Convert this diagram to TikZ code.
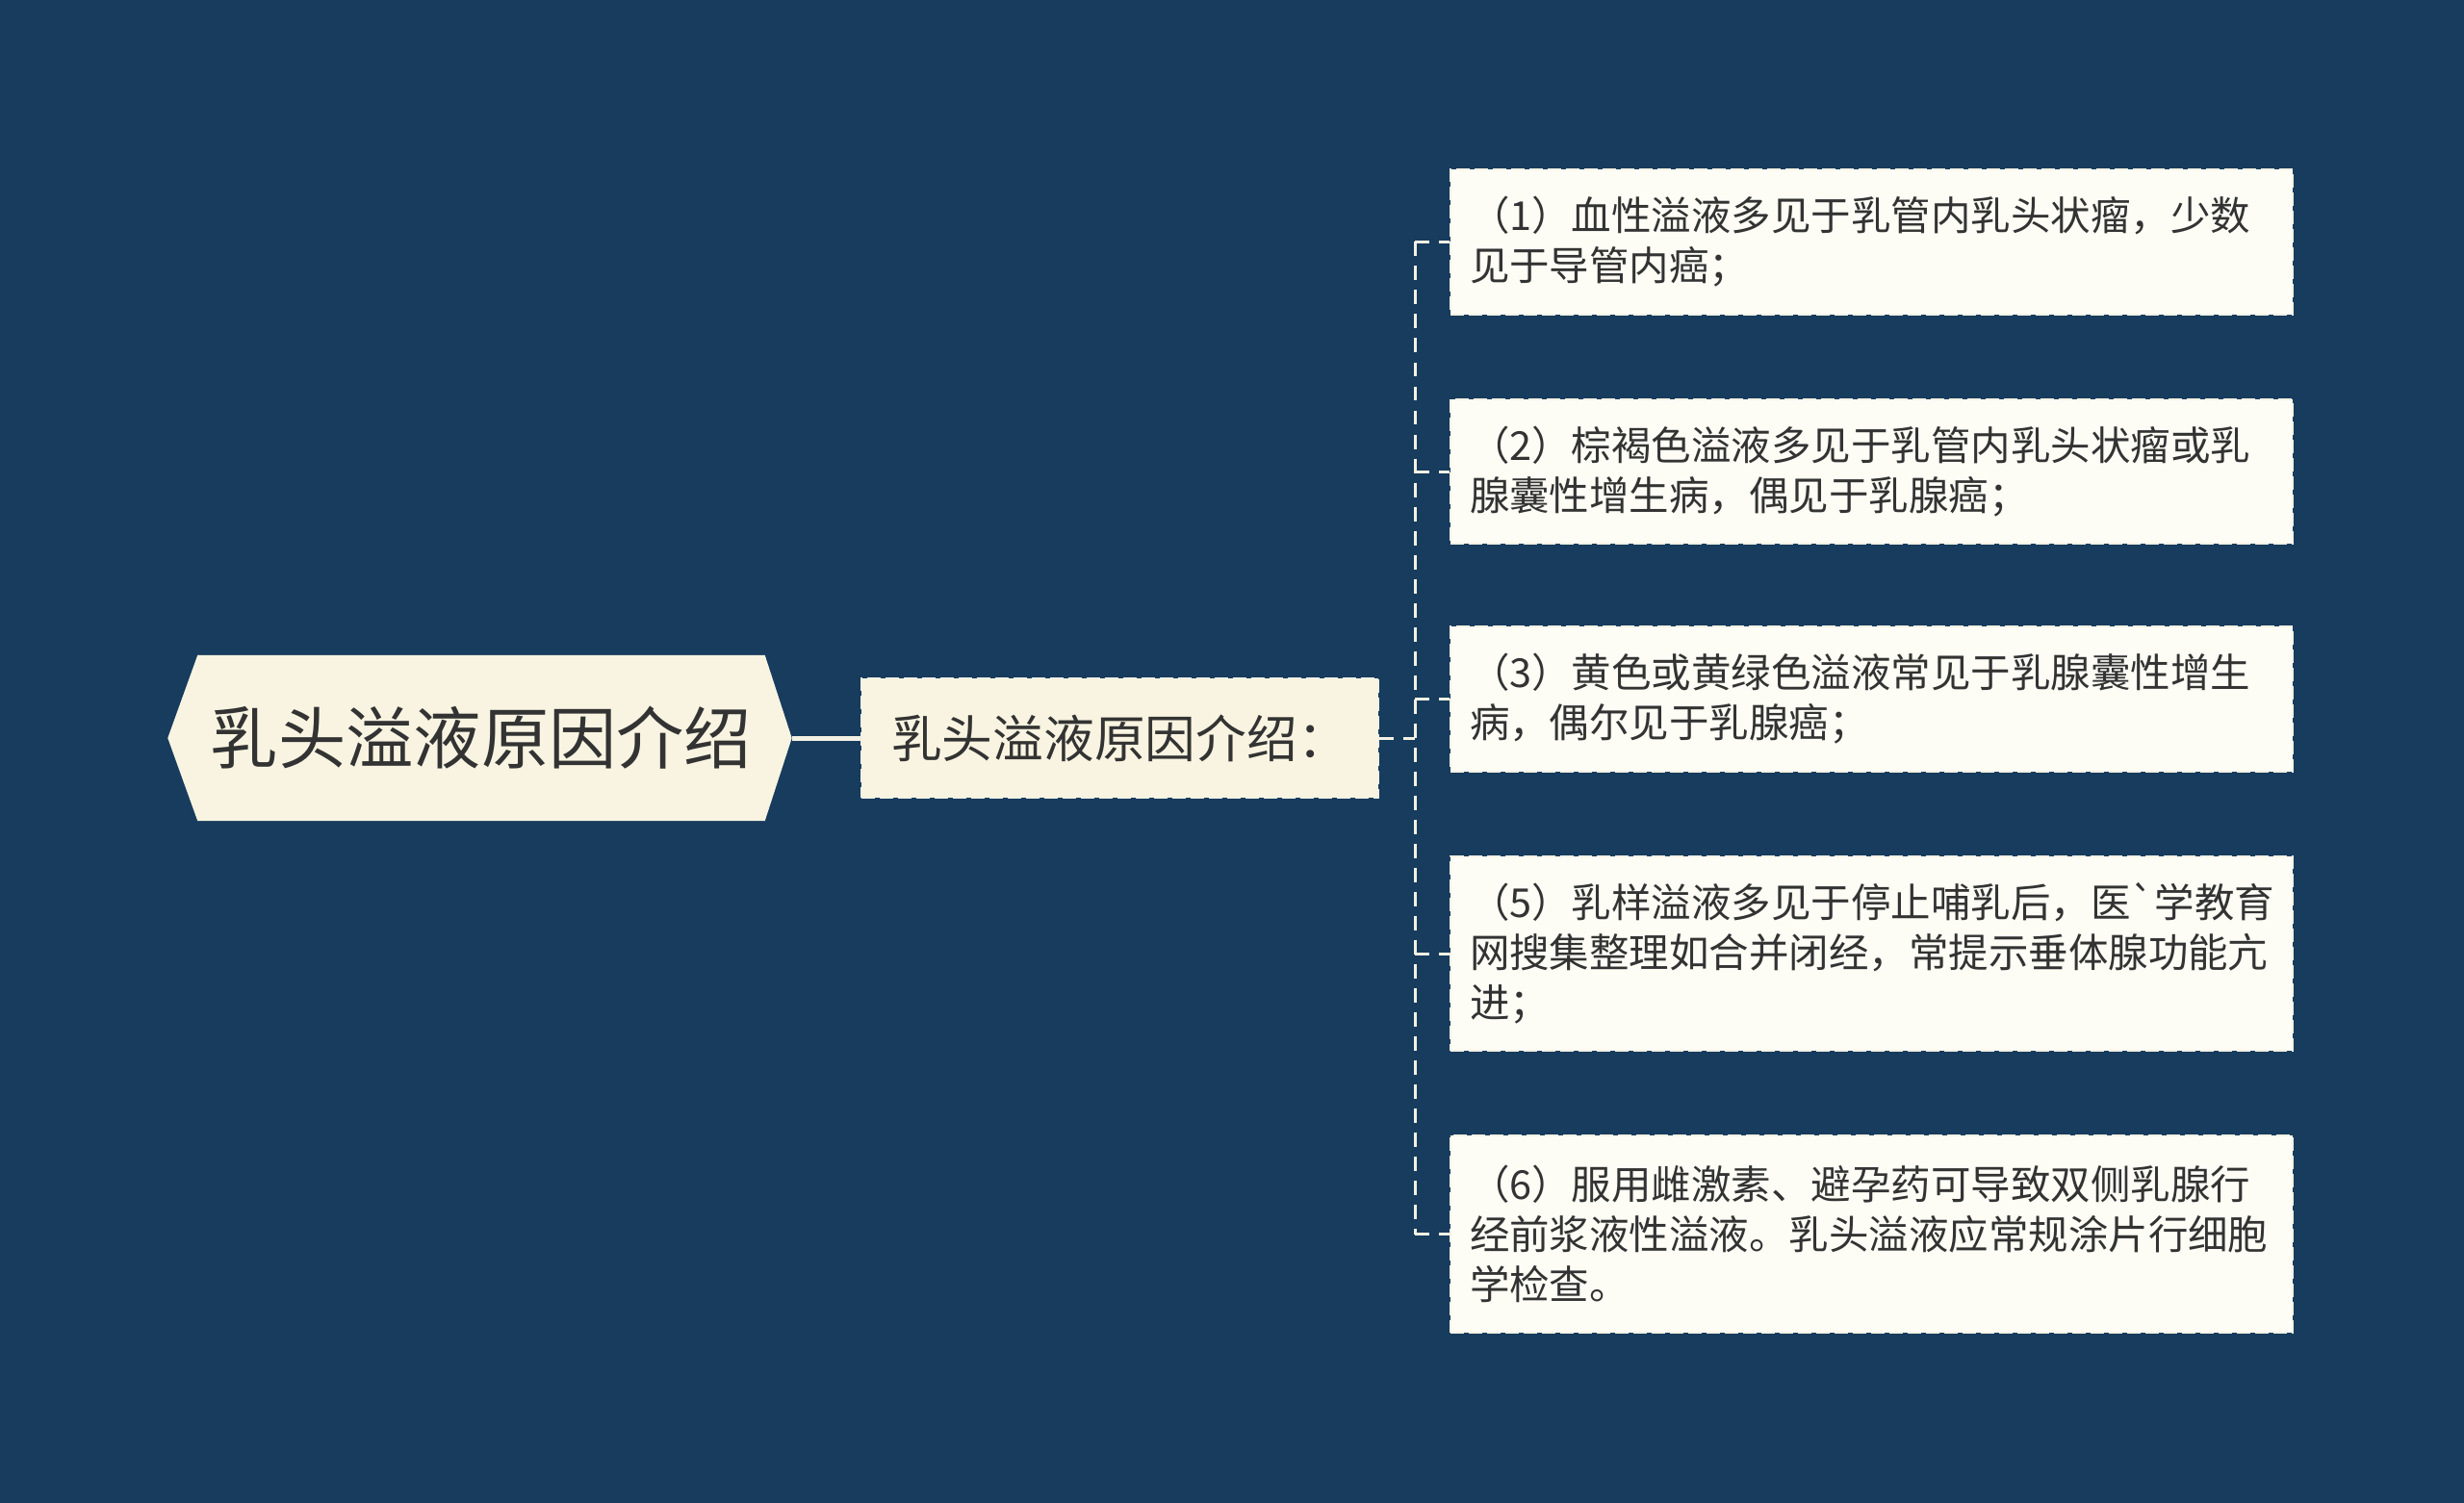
\documentclass[tikz,border=0pt]{standalone}
\usepackage{fontspec}
\usepackage{xcolor}
\usetikzlibrary{backgrounds}
\newfontfamily\cjk{Noto Sans CJK SC}
\definecolor{navy}{HTML}{173C5D}
\definecolor{rootfill}{HTML}{F8F4E1}
\definecolor{leaffill}{HTML}{FDFDF6}
\definecolor{inkgray}{HTML}{333333}
\definecolor{linkcol}{HTML}{F4F1E4}
\tikzset{
	rootbox/.style={inner sep=0pt, minimum width=5.88cm, minimum height=1.71cm,
			text=inkgray, font=\cjk\fontsize{20}{24}\selectfont},
	midbox/.style={fill=rootfill, draw=linkcol, dash pattern=on 0.14cm off 0.05cm, line width=0.02cm,
			inner sep=0pt, minimum width=5.37cm, minimum height=1.24cm,
			text=inkgray, font=\cjk\fontsize{15}{18}\selectfont},
	leafbox/.style={fill=leaffill, draw=linkcol, dash pattern=on 0.14cm off 0.05cm, line width=0.02cm,
			inner xsep=0.2cm, inner ysep=0pt, text width=8.35cm, align=left,
			text=inkgray, font=\cjk\fontsize{11.8}{14.8}\selectfont},
	rootlink/.style={draw=linkcol, line width=0.05cm},
	link/.style={draw=linkcol, line width=0.03cm, dash pattern=on 0.15cm off 0.1cm}
}

\begin{document}
\begin{tikzpicture}
	% page size
	\useasboundingbox (0,0) rectangle (25.6,-15.62);

	% root with pointed ends
	\node[rootbox] (root) at (5.00,-7.67) {乳头溢液原因介绍};
	\coordinate (roottip) at ([xshift=0.28cm]root.east);
	\begin{scope}[on background layer]
		\fill[navy] (0,0) rectangle (25.6,-15.62);
		\fill[rootfill] (root.north west) -- ([xshift=-0.31cm]root.west) -- (root.south west)
			-- (root.south east) -- (roottip) -- (root.north east) -- cycle;
	\end{scope}

	\node[midbox] (mid) at (11.635,-7.67) {乳头溢液原因介绍：};
	\draw[rootlink] (roottip) -- (mid.west);

	% causes
	\node[leafbox, minimum height=1.51cm] (c1) at (19.445,-2.515) {（1）血性溢液多见于乳管内乳头状瘤，少数\\见于导管内癌；};
	\node[leafbox, minimum height=1.50cm] (c2) at (19.445,-4.90) {（2）棕褐色溢液多见于乳管内乳头状瘤或乳\\腺囊性增生病，偶见于乳腺癌；};
	\node[leafbox, minimum height=1.51cm] (c3) at (19.445,-7.265) {（3）黄色或黄绿色溢液常见于乳腺囊性增生\\病，偶尔见于乳腺癌；};
	\node[leafbox, minimum height=2.02cm] (c5) at (19.445,-9.91) {（5）乳样溢液多见于停止哺乳后，医\char96 学教育\\网搜集整理如合并闭经，常提示垂体腺功能亢\\进；};
	\node[leafbox, minimum height=2.05cm] (c6) at (19.445,-12.825) {（6）服用雌激素、避孕药可导致双侧乳腺行\\经前浆液性溢液。乳头溢液应常规涂片行细胞\\学检查。};

	% dashed bus
	\coordinate (bus) at (14.70,-7.67);
	\draw[link] (mid.east) -- (bus);
	\draw[link] (bus |- c1.west) -- (bus |- c6.west);
	\foreach \c in {c1,c2,c3,c5,c6} {
		\draw[link] (bus |- \c.west) -- (\c.west);
	}
\end{tikzpicture}
\end{document}
